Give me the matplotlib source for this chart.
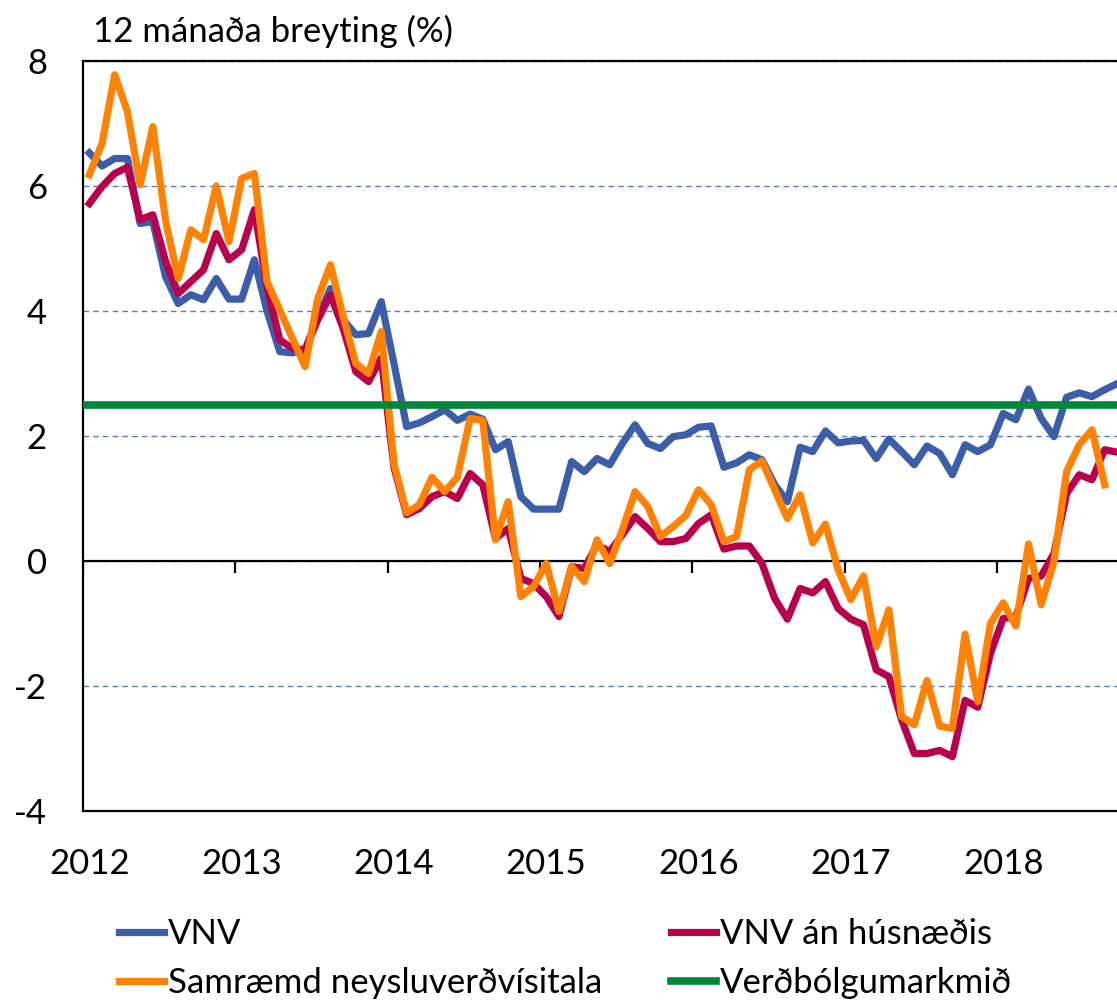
import matplotlib.pyplot as plt
import numpy as np

# monthly 12-month change (%), Jan 2012 onwards
vnv = [6.53, 6.32, 6.44, 6.44, 5.40, 5.43, 4.55, 4.12, 4.26, 4.18, 4.52, 4.19,
       4.19, 4.82, 4.00, 3.35, 3.33, 3.38, 3.90, 4.36, 3.86, 3.62, 3.64, 4.15,
       3.16, 2.15, 2.21, 2.31, 2.42, 2.25, 2.35, 2.27, 1.78, 1.91, 1.03, 0.83,
       0.83, 0.83, 1.59, 1.43, 1.64, 1.54, 1.88, 2.18, 1.88, 1.80, 1.99, 2.02,
       2.14, 2.16, 1.50, 1.57, 1.70, 1.62, 1.22, 0.95, 1.82, 1.75, 2.08, 1.89,
       1.92, 1.93, 1.64, 1.95, 1.75, 1.54, 1.84, 1.72, 1.38, 1.86, 1.75, 1.86,
       2.36, 2.26, 2.75, 2.28, 1.99, 2.62, 2.69, 2.63, 2.74, 2.84]
vnv_an = [5.72, 5.99, 6.20, 6.30, 5.46, 5.54, 4.80, 4.28, 4.47, 4.66, 5.24, 4.82,
          4.98, 5.62, 4.39, 3.54, 3.40, 3.38, 3.86, 4.26, 3.72, 3.03, 2.87, 3.25,
          1.50, 0.74, 0.84, 1.03, 1.11, 1.00, 1.40, 1.22, 0.36, 0.52, -0.28, -0.36,
          -0.57, -0.89, -0.09, -0.12, 0.26, 0.15, 0.42, 0.71, 0.52, 0.31, 0.31, 0.36,
          0.60, 0.74, 0.19, 0.24, 0.24, -0.04, -0.60, -0.93, -0.44, -0.51, -0.33, -0.76,
          -0.93, -1.02, -1.74, -1.85, -2.54, -3.08, -3.08, -3.03, -3.13, -2.23, -2.34, -1.48,
          -0.92, -0.89, -0.28, -0.24, 0.12, 1.08, 1.38, 1.30, 1.78, 1.74]
samraemd = [6.18, 6.68, 7.78, 7.19, 6.02, 6.95, 5.45, 4.52, 5.30, 5.14, 6.00, 5.11,
            6.12, 6.20, 4.47, 4.02, 3.56, 3.11, 4.20, 4.74, 3.91, 3.16, 3.00, 3.67,
            1.56, 0.77, 0.90, 1.34, 1.11, 1.34, 2.28, 2.25, 0.34, 0.95, -0.57, -0.41,
            -0.04, -0.81, -0.09, -0.33, 0.34, -0.04, 0.50, 1.11, 0.87, 0.39, 0.55, 0.73,
            1.14, 0.90, 0.31, 0.39, 1.46, 1.60, 1.14, 0.68, 1.06, 0.29, 0.59, -0.14,
            -0.62, -0.24, -1.37, -0.78, -2.49, -2.62, -1.91, -2.64, -2.68, -1.17, -2.25, -1.00,
            -0.67, -1.04, 0.27, -0.70, -0.01, 1.43, 1.86, 2.10, 1.22]
markmid = 2.5
years = [2012, 2013, 2014, 2015, 2016, 2017, 2018]

def months(n):
    # middle of each month as decimal year
    return 2012 + (np.arange(n) + 0.5) / 12

plt.rcParams['font.family'] = ['Lato', 'DejaVu Sans']
fs = 25

fig = plt.figure(figsize=(11.17, 10.02), dpi=100)
ax = fig.add_axes([83/1117, 1-811/1002, (1130-83)/1117, 750/1002])

ax.plot(months(len(vnv)), vnv, color='#3C5DA8', lw=5.2, label='VNV', zorder=4)
ax.plot(months(len(vnv_an)), vnv_an, color='#B8004C', lw=5.2, label='VNV án húsnæðis', zorder=4)
ax.plot(months(len(samraemd)), samraemd, color='#FF8205', lw=5.2,
        label='Samræmd neysluverðvísitala', zorder=5)
ax.axhline(markmid, color='#00873A', lw=5.5, label='Verðbólgumarkmið', zorder=6)

ax.axhline(0, color='black', lw=1.6, zorder=3)
ax.vlines(years, -0.19, 0, color='black', lw=1.6, zorder=3)

ax.set_xlim(2012, 2012 + (1130-83)/152.3)
ax.set_ylim(-4, 8)
ax.set_yticks([-4, -2, 0, 2, 4, 6, 8])
ax.set_yticklabels(['-4', '-2', '0', '2', '4', '6', '8'])
ax.set_xticks([y + 0.5/12 for y in years])
ax.set_xticklabels([str(y) for y in years])
ax.tick_params(axis='both', length=0, labelsize=fs)
ax.tick_params(axis='y', pad=26)
ax.tick_params(axis='x', pad=27)
ax.yaxis.grid(True, color='#5B7DB3', lw=1, linestyle=(0, (4, 3)))
ax.set_axisbelow(True)
for s in ax.spines.values():
    s.set_color('black')
    s.set_linewidth(1.6)

fig.text(93/1117, 1-31/1002, '12 mánaða breyting (%)', fontsize=fs, va='center')

h, l = ax.get_legend_handles_labels()
order = [0, 2, 1, 3]
fig.legend([h[i] for i in order], [l[i] for i in order], ncol=2, frameon=False,
           loc='upper left', bbox_to_anchor=(119/1117, 1-918/1002), fontsize=fs,
           handlelength=1.3, handletextpad=0.1, columnspacing=2.0, labelspacing=0.5,
           borderpad=0, borderaxespad=0)

fig.savefig('out.png', dpi=100)
